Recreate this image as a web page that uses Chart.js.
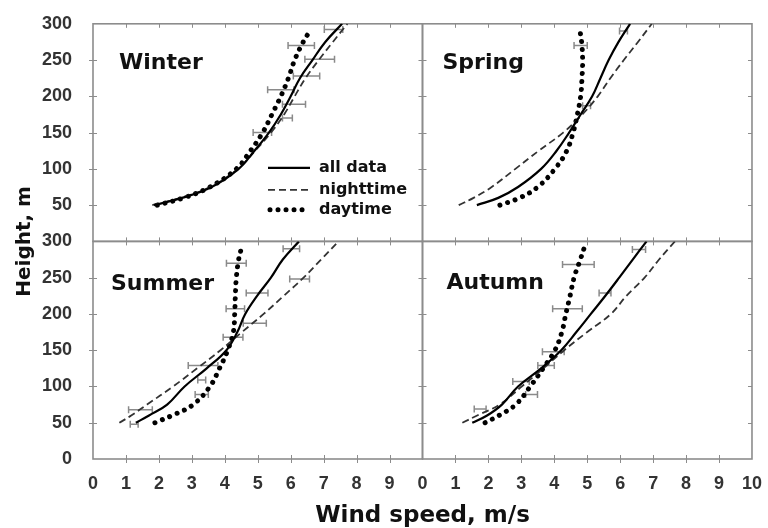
<!DOCTYPE html>
<html>
<head>
<meta charset="utf-8">
<script src="https://cdn.jsdelivr.net/npm/chart.js@4.4.1/dist/chart.umd.min.js"></script>
<style>
  html, body { margin: 0; padding: 0; background: #fff; }
  #wrap { position: relative; width: 768px; height: 528px; }
</style>
</head>
<body>
<div id="wrap"><canvas id="profiles" width="768" height="528"></canvas></div>
<script>
// sample heights (m) of the profiles
const heights    = [50, 60, 75, 100, 125, 150, 175, 200, 225, 250, 275, 300];
const dayHeights = [50, 60, 75, 100, 125, 150, 175, 200, 225, 250, 275, 290];

// wind speed (m/s) at each height
const winterAll   = [1.85, 2.7, 3.6, 4.42, 4.9, 5.34, 5.7, 6.0, 6.28, 6.66, 7.05, 7.56];
const winterNight = [1.8, 2.65, 3.55, 4.4, 4.92, 5.4, 5.8, 6.12, 6.45, 6.85, 7.28, 7.72];
const winterDay   = [1.95, 2.75, 3.55, 4.35, 4.78, 5.15, 5.43, 5.7, 5.93, 6.12, 6.38, 6.58];

const springAll   = [1.65, 2.3, 2.9, 3.6, 4.07, 4.45, 4.8, 5.15, 5.4, 5.65, 5.95, 6.3];
const springNight = [1.1, 1.55, 2.1, 2.82, 3.53, 4.27, 4.85, 5.32, 5.7, 6.11, 6.54, 6.96];
const springDay   = [2.35, 2.95, 3.5, 4.02, 4.38, 4.57, 4.7, 4.8, 4.84, 4.86, 4.83, 4.78];

const summerAll   = [1.3, 1.7, 2.25, 2.78, 3.45, 4.05, 4.38, 4.62, 4.98, 5.4, 5.76, 6.25];
const summerNight = [0.8, 1.16, 1.64, 2.43, 3.16, 3.87, 4.52, 5.18, 5.79, 6.39, 6.92, 7.45];
const summerDay   = [1.88, 2.4, 3.04, 3.55, 3.84, 4.09, 4.26, 4.3, 4.32, 4.35, 4.42, 4.5];

const autumnAll   = [1.51, 1.96, 2.41, 2.9, 3.6, 4.21, 4.67, 5.11, 5.55, 5.97, 6.38, 6.8];
const autumnNight = [1.21, 1.66, 2.34, 3.01, 3.67, 4.3, 5.0, 5.72, 6.19, 6.74, 7.18, 7.66];
const autumnDay   = [1.9, 2.32, 2.83, 3.27, 3.66, 4.02, 4.23, 4.35, 4.48, 4.6, 4.79, 4.9];

// error bars: [speed, height, half width]
const winterBars = [[7.3, 292, 0.28], [6.32, 270, 0.4], [6.88, 251, 0.45], [6.48, 228, 0.4],
                    [5.7, 209, 0.4], [6.1, 189, 0.35], [5.9, 170, 0.15], [5.14, 150, 0.28]];
const springBars = [[4.8, 270, 0.2], [6.1, 290, 0.12], [4.98, 187, 0.12]];
const summerBars = [[1.44, 68, 0.36], [3.34, 129, 0.45], [3.3, 89, 0.2], [3.3, 109, 0.12],
                    [4.25, 168, 0.3], [4.32, 207, 0.28], [4.35, 270, 0.3], [4.98, 229, 0.33],
                    [4.91, 187, 0.35], [6.27, 248, 0.3], [6.02, 290, 0.25], [1.25, 48, 0.12]];
const autumnBars = [[4.73, 268, 0.48], [4.4, 207, 0.45], [3.97, 148, 0.33], [2.99, 107, 0.25],
                    [3.31, 89, 0.18], [3.75, 129, 0.25], [1.75, 69, 0.18], [5.54, 229, 0.18],
                    [6.57, 289, 0.2]];

const seriesNames = ["all data", "nighttime", "daytime"];

const panels = [
    { name: "Winter", x: "xLeft",  y: "yTop", series: [winterAll, winterNight, winterDay], bars: winterBars, dx: 26, dy: 45 },
    { name: "Spring", x: "xRight", y: "yTop", series: [springAll, springNight, springDay], bars: springBars, dx: 20, dy: 45 },
    { name: "Summer", x: "xLeft",  y: "yBot", series: [summerAll, summerNight, summerDay], bars: summerBars, dx: 18, dy: 49 },
    { name: "Autumn", x: "xRight", y: "yBot", series: [autumnAll, autumnNight, autumnDay], bars: autumnBars, dx: 24, dy: 48 }
];

const lineStyles = [
    { borderColor: "#000", borderWidth: 2.2, borderDash: [], borderCapStyle: "butt" },
    { borderColor: "#333", borderWidth: 1.8, borderDash: [7, 4], borderCapStyle: "butt" },
    { borderColor: "#000", borderWidth: 5, borderDash: [0.01, 8], borderCapStyle: "round" }
];

const frameColor = "#8c8c8c";
const textColor = "#111";
const tickFont = { family: "'Liberation Sans', Arial, sans-serif", size: 18, weight: "bold" };

const datasets = [];
panels.forEach(p => {
    p.series.forEach((speeds, k) => {
        const hs = k === 2 ? dayHeights : heights;
        datasets.push(Object.assign({
            label: p.name + " " + seriesNames[k],
            data: speeds.map((s, i) => ({ x: s, y: hs[i] })),
            xAxisID: p.x,
            yAxisID: p.y,
            pointRadius: 0,
            tension: 0.4,
            fill: false
        }, lineStyles[k]));
    });
});

function speedAxis(showLast) {
    return {
        type: "linear", position: "bottom", stack: "speed", min: 0, max: 10,
        grid: { display: false }, border: { display: false },
        ticks: {
            stepSize: 1, autoSkip: false, maxRotation: 0, padding: 6,
            color: "#333", font: tickFont,
            callback: v => (v === 10 && !showLast) ? "" : v
        },
        afterFit: s => { s.height = 69; }
    };
}

function heightAxis(showZero, weight) {
    return {
        type: "linear", position: "left", stack: "height", weight: weight, min: 0, max: 300,
        grid: { display: false }, border: { display: false },
        ticks: {
            stepSize: 50, autoSkip: false, padding: 13, color: "#333", font: tickFont,
            callback: v => (v === 0 && !showZero) ? "" : v
        },
        afterFit: s => { s.width = 93; }
    };
}

// panel frames, small inner ticks and the error bars
const framesPlugin = {
    id: "panelFrames",
    beforeDatasetsDraw(chart) {
        const ctx = chart.ctx;
        ctx.save();
        panels.forEach(p => {
            const xs = chart.scales[p.x], ys = chart.scales[p.y];
            const l = xs.left, r = xs.right, t = ys.top, b = ys.bottom;
            ctx.strokeStyle = frameColor;
            ctx.lineWidth = 1.6;
            ctx.strokeRect(l, t, r - l, b - t);

            ctx.lineWidth = 1;
            ctx.beginPath();
            for (let v = 1; v < 10; v++) {
                const px = Math.round(xs.getPixelForValue(v)) + 0.5;
                ctx.moveTo(px, t); ctx.lineTo(px, t + 4);
                ctx.moveTo(px, b - 4); ctx.lineTo(px, b + (p.y === "yBot" ? 4 : 0));
            }
            for (let v = 50; v < 300; v += 50) {
                const py = Math.round(ys.getPixelForValue(v)) + 0.5;
                ctx.moveTo(l - (p.x === "xLeft" ? 4 : 0), py); ctx.lineTo(l + 4, py);
                ctx.moveTo(r - 4, py); ctx.lineTo(r, py);
            }
            ctx.stroke();

            ctx.strokeStyle = "#8a8a8a";
            ctx.lineWidth = 1.5;
            ctx.beginPath();
            p.bars.forEach(([s, h, e]) => {
                const x0 = xs.getPixelForValue(s - e), x1 = xs.getPixelForValue(s + e);
                const y = ys.getPixelForValue(h);
                ctx.moveTo(x0, y); ctx.lineTo(x1, y);
                ctx.moveTo(x0, y - 3.5); ctx.lineTo(x0, y + 3.5);
                ctx.moveTo(x1, y - 3.5); ctx.lineTo(x1, y + 3.5);
            });
            ctx.stroke();
        });
        ctx.restore();
    },
    afterDraw(chart) {
        const ctx = chart.ctx;
        const area = chart.chartArea;
        ctx.save();
        ctx.fillStyle = textColor;

        // season names
        ctx.font = "bold 22px 'DejaVu Sans'";
        ctx.textAlign = "left";
        ctx.textBaseline = "alphabetic";
        panels.forEach(p => {
            ctx.fillText(p.name, chart.scales[p.x].left + p.dx, chart.scales[p.y].top + p.dy);
        });

        // legend inside the winter panel
        const w = panels[0];
        const lx = chart.scales[w.x].left, ty = chart.scales[w.y].top;
        const rows = [144, 166, 186];
        ctx.font = "bold 16px 'DejaVu Sans'";
        ctx.textBaseline = "middle";
        rows.forEach((dy, k) => {
            const st = lineStyles[k];
            ctx.save();
            ctx.strokeStyle = st.borderColor;
            ctx.lineWidth = st.borderWidth;
            ctx.lineCap = st.borderCapStyle;
            ctx.setLineDash(st.borderDash);
            ctx.beginPath();
            ctx.moveTo(lx + 175 + (k === 2 ? 2 : 0), ty + dy);
            ctx.lineTo(lx + 217, ty + dy);
            ctx.stroke();
            ctx.restore();
            ctx.fillText(seriesNames[k], lx + 226, ty + dy);
        });

        // axis titles
        ctx.font = "bold 23px 'DejaVu Sans'";
        ctx.textAlign = "center";
        ctx.textBaseline = "alphabetic";
        ctx.fillText("Wind speed, m/s", (area.left + area.right) / 2, 522);

        ctx.translate(25, (area.top + area.bottom) / 2);
        ctx.rotate(-Math.PI / 2);
        ctx.font = "bold 20px 'DejaVu Sans'";
        ctx.textBaseline = "middle";
        ctx.fillText("Height, m", 0, 0);
        ctx.restore();
    }
};

new Chart(document.getElementById("profiles"), {
    type: "line",
    data: { datasets: datasets },
    options: {
        responsive: false,
        animation: false,
        layout: { padding: { top: 17, right: 16, bottom: 0, left: 0 } },
        plugins: { legend: { display: false }, tooltip: { enabled: false } },
        scales: {
            xLeft: speedAxis(false),
            xRight: speedAxis(true),
            yBot: heightAxis(true, 0),
            yTop: heightAxis(false, 1)
        }
    },
    plugins: [framesPlugin]
});
</script>
</body>
</html>
